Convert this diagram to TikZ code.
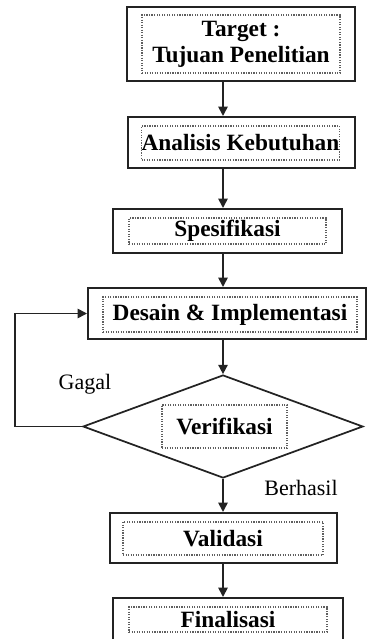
\documentclass[tikz,border=0pt]{standalone}
\usepackage{fontspec}
\setmainfont{Liberation Serif}
\usepackage{tikz}
\usetikzlibrary{shapes.geometric}
\usetikzlibrary{arrows,arrows.meta}
\usetikzlibrary{calc}
\definecolor{rahmen}{RGB}{35,35,35}
\definecolor{punkt}{RGB}{95,95,95}

\begin{document}
\begin{tikzpicture}[x=0.75pt, y=-0.75pt, rahmen,
	kasten/.style 2 args={draw=rahmen, line width=1.5pt, minimum width=#1*0.75pt, minimum height=#2*0.75pt, inner sep=0pt},
	innen/.style 2 args={draw=punkt, densely dotted, line width=0.9pt, minimum width=#1*0.75pt, minimum height=#2*0.75pt, inner sep=0pt, text=black, align=center, font=\fontsize{17.5}{19.5}\selectfont\bfseries},
	pfeil/.style={line width=1.3pt, -{Triangle[length=7pt,width=7pt]}},
	beschriftung/.style={text=black, font=\fontsize{16.5}{19}\selectfont}]

	\useasboundingbox (0,0) rectangle (367,639);

	% \draw[thin, gray] (0,0) grid[step=50] (367,639);

	\node[kasten={228}{74}] (target) at (241,44) {};
	\node[innen={198}{58}] (target-in) at (241,44) {Target :\\Tujuan Penelitian};
	\node[kasten={227}{51}] (analisis) at (241.5,142.5) {};
	\node[innen={197}{34}] (analisis-in) at (240.5,143) {Analisis Kebutuhan};
	\node[kasten={229}{44}] (spesifikasi) at (227.5,231) {};
	\node[innen={197}{26}] (spesifikasi-in) at (227.5,231) {Spesifikasi};
	\node[kasten={278}{51}] (desain) at (227,313.5) {};
	\node[innen={254}{35}] (desain-in) at (230,314.5) {Desain \& Implementasi};
	\node[diamond, draw=rahmen, line width=1.3pt, minimum width=280*0.75pt, minimum height=103*0.75pt, inner sep=0pt] (verifikasi) at (223,426.5) {};
	\node[innen={125}{43}] (verifikasi-in) at (224.5,426.5) {Verifikasi};
	\node[kasten={227}{50}] (validasi) at (223.5,538) {};
	\node[innen={200}{33}] (validasi-in) at (223,538.5) {Validasi};
	\node[kasten={230}{43}] (finalisasi) at (228,619.5) {};
	\node[innen={198}{25}] (finalisasi-in) at (228,619.5) {Finalisasi};

	\draw[pfeil] (target.south -| verifikasi) -- (analisis.north -| verifikasi);
	\draw[pfeil] (analisis.south -| verifikasi) -- (spesifikasi.north -| verifikasi);
	\draw[pfeil] (spesifikasi.south -| verifikasi) -- (desain.north -| verifikasi);
	\draw[pfeil] (desain.south -| verifikasi) -- (verifikasi.north);
	\draw[pfeil] (verifikasi.south) -- (validasi.north -| verifikasi);
	\draw[pfeil] (validasi.south -| verifikasi) -- (finalisasi.north -| verifikasi);

	\coordinate (links) at (15,0);
	\draw[pfeil] (verifikasi.west) -- (verifikasi.west -| links) -- (desain.west -| links) -- (desain.west);

	\node[beschriftung] (gagal) at (85,384) {Gagal};
	\node[beschriftung] (berhasil) at (301,488) {Berhasil};

\end{tikzpicture}
\end{document}
